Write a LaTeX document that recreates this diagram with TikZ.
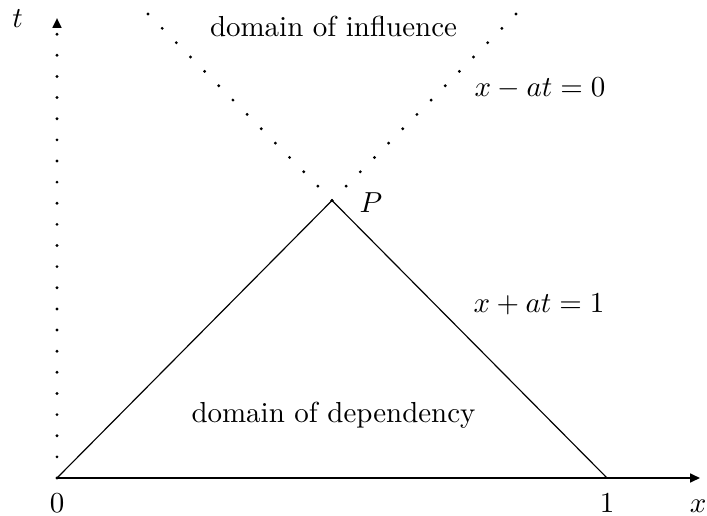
\documentclass[tikz,border=0pt]{standalone}
\usepackage{amsmath}
\usepackage{amssymb}
\usepackage{tikz}
\usetikzlibrary{arrows.meta}
\tikzset{
  dotline/.style={line cap=round, line width=1.1pt, dash pattern=on 0pt off #1},
  dotline/.default=6.96pt,
  axistip/.style={-{Triangle[length=3.4pt,width=3pt]}}
}
\begin{document}
\begin{tikzpicture}[scale=0.607]
\useasboundingbox (-1.14,-0.74) rectangle (13,9.56);
\coordinate (O) at (0,0);
\coordinate (A) at (11,0);
\coordinate (P) at (5.5,5.55);
\coordinate (T) at (0,9.2);
\coordinate (X) at (12.86,0);
\coordinate (L) at (1.8,9.3);
\coordinate (R) at (9.2,9.3);
\draw[axistip,line width=0.7pt] (O) -- (X);
\draw[axistip,dotline=7.3pt] (O) -- (T);
\draw (O) -- (P) -- (A);
\draw[dotline] (P) -- (L);
\draw[dotline] (P) -- (R);
\node (tlab) at (-0.79,9.0) [anchor=base] {$t$};
\node (xlab) at (12.82,-0.68) [anchor=base] {$x$};
\node (zero) at (0,-0.68) [anchor=base] {$0$};
\node (one) at (11,-0.68) [anchor=base] {$1$};
\node (plab) at (6.28,5.3) [anchor=base] {$P$};
\node (infl) at (5.53,8.82) [anchor=base] {domain of influence};
\node (dep) at (5.53,1.1) [anchor=base] {domain of dependency};
\node (cminus) at (9.66,7.62) [anchor=base] {$x-at=0$};
\node (cplus) at (9.64,3.3) [anchor=base] {$x+at=1$};
\end{tikzpicture}
\end{document}
